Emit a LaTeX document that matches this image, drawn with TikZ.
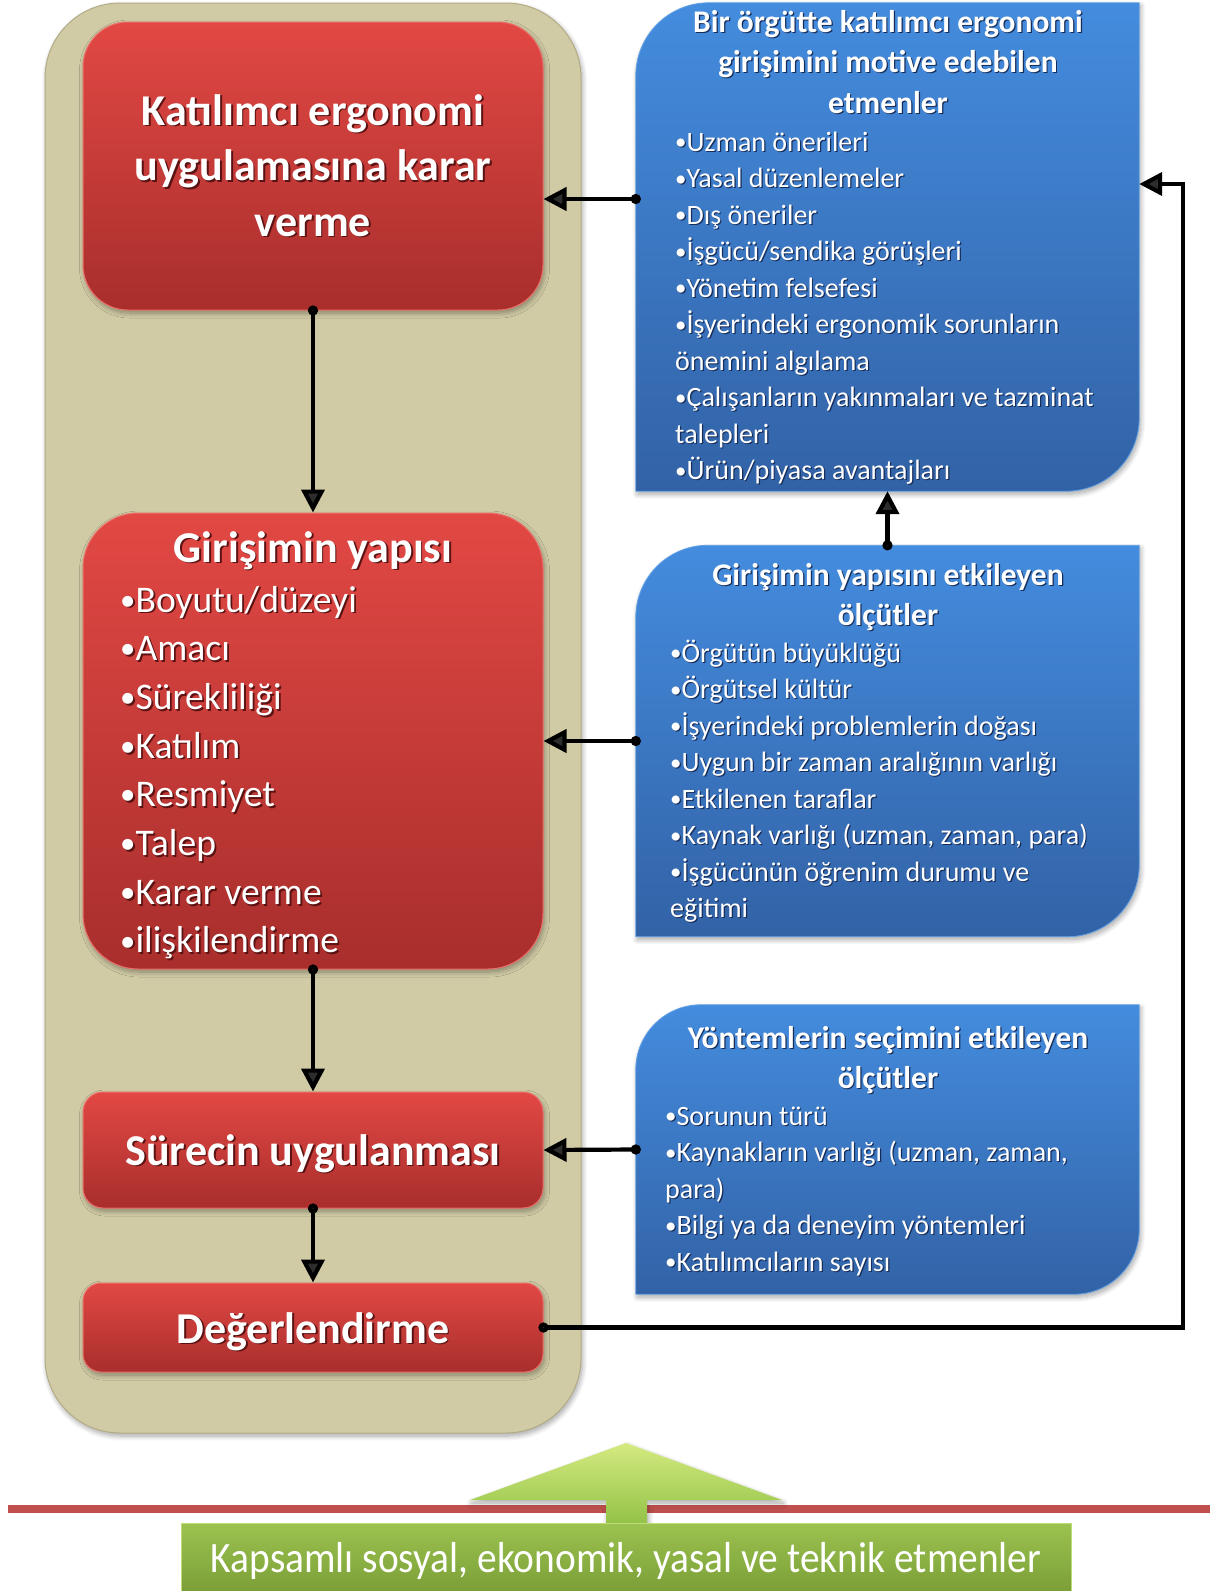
\documentclass[tikz,border=0pt]{standalone}
\usepackage{graphicx}
\usepackage{fontspec}
\setmainfont{Carlito}
\usetikzlibrary{arrows.meta,shadows.blur}

\definecolor{panel}{RGB}{208,203,165}
\definecolor{panelrim}{RGB}{178,172,134}
\definecolor{redtop}{RGB}{226,72,68}
\definecolor{redbot}{RGB}{168,46,44}
\definecolor{redrim}{RGB}{236,112,106}
\definecolor{redshade}{RGB}{90,18,18}
\definecolor{bluetop}{RGB}{68,140,222}
\definecolor{bluebot}{RGB}{50,98,166}
\definecolor{bluerim}{RGB}{96,160,230}
\definecolor{blueshade}{RGB}{22,45,90}
\definecolor{floorline}{RGB}{192,80,77}
\definecolor{greentop}{RGB}{156,194,80}
\definecolor{greenbot}{RGB}{122,158,54}
\definecolor{greenrim}{RGB}{190,220,120}
\definecolor{arrowtop}{RGB}{212,234,128}
\definecolor{arrowbot}{RGB}{146,194,70}

% white text with a dark offset copy underneath
\newcommand\shadowed[3]{\leavevmode\rlap{\kern#1\raisebox{-#1}{\textcolor{#2}{#3}}}#3}
\newcommand\rsh[1]{\shadowed{1.8pt}{redshade}{#1}}
\newcommand\bsh[1]{\shadowed{1.2pt}{blueshade}{#1}}
% small list bullet
\newcommand\bul{\raisebox{0.05em}{\scalebox{0.82}{•}}}

% blue panel with two rounded diagonal corners
\newcommand\bluepanel[2]{%
  \shadedraw[top color=bluetop, bottom color=bluebot, draw=bluerim, line width=0.8pt, softshadow]
    (#1.south west) -- ([yshift=-#2]#1.north west)
    arc[start angle=180, end angle=90, radius=#2] -- (#1.north east)
    -- ([yshift=#2]#1.south east)
    arc[start angle=0, end angle=-90, radius=#2] -- cycle;}

\begin{document}
\begin{tikzpicture}[x=1pt,y=1pt,
  softshadow/.style={blur shadow={shadow xshift=1.5pt, shadow yshift=-3pt,
      shadow blur radius=5pt, shadow blur steps=8, shadow opacity=35}},
  panelbox/.style={rectangle, rounded corners=75pt, fill=panel, draw=panelrim,
      line width=1pt, softshadow, inner sep=0pt},
  redbox/.style={rectangle, top color=redtop, bottom color=redbot, draw=redrim,
      line width=1pt, minimum width=460pt, inner sep=0pt, softshadow},
  zone/.style={rectangle, minimum width=503pt, inner sep=0pt},
  lbl/.style={text=white, inner sep=0pt, anchor=base},
  lst/.style={text=white, inner sep=0pt, anchor=base west},
  conn/.style={line width=4.2pt, {Circle[length=10pt]}-{Triangle[length=23pt,width=23pt]},
      shorten <=-5pt},
]
\useasboundingbox (0,0) rectangle (1215,-1591);

% left column
\node[panelbox, minimum width=536pt, minimum height=1430pt] (panel) at (313,-718) {};
\node[redbox, rounded corners=45pt, minimum height=288pt] (r1) at (313,-166) {};
\node[redbox, rounded corners=55pt, minimum height=456pt] (r2) at (313,-741) {};
\node[redbox, rounded corners=20pt, minimum height=116pt] (r3) at (313,-1150) {};
\node[redbox, rounded corners=18pt, minimum height=89pt] (r4) at (313,-1327.5) {};

\node[lbl] (r1t) at (313,-125) {\fontsize{44}{55.5}\bfseries\selectfont
  \begin{tabular}[t]{@{}c@{}}\rsh{Katılımcı ergonomi}\\\rsh{uygulamasına karar}\\\rsh{verme}\end{tabular}};
\node[lbl] (r2t) at (313,-562) {\fontsize{44}{55}\bfseries\selectfont\rsh{Girişimin yapısı}};
\node[lst] (r2l) at (120,-612) {\fontsize{37.6}{48.7}\selectfont
  \begin{tabular}[t]{@{}l@{}}
  \rsh{\bul Boyutu/düzeyi}\\\rsh{\bul Amacı}\\\rsh{\bul Sürekliliği}\\\rsh{\bul Katılım}\\
  \rsh{\bul Resmiyet}\\\rsh{\bul Talep}\\\rsh{\bul Karar verme}\\\rsh{\bul ilişkilendirme}
  \end{tabular}};
\node[lbl] (r3t) at (313,-1165) {\fontsize{44}{55}\bfseries\selectfont\rsh{Sürecin uygulanması}};
\node[lbl] (r4t) at (313,-1343) {\fontsize{44}{55}\bfseries\selectfont\rsh{Değerlendirme}};

% right column
\node[zone, minimum height=488pt] (b1) at (887.5,-247) {};
\node[zone, minimum height=391pt] (b2) at (887.5,-741) {};
\node[zone, minimum height=289pt] (b3) at (887.5,-1149.5) {};
\bluepanel{b1}{73pt}
\bluepanel{b2}{72pt}
\bluepanel{b3}{65pt}

\node[lbl] (b1t) at (888,-32) {\fontsize{31.5}{40.6}\bfseries\selectfont
  \begin{tabular}[t]{@{}c@{}}\bsh{Bir örgütte katılımcı ergonomi}\\\bsh{girişimini motive edebilen}\\\bsh{etmenler}\end{tabular}};
\node[lst] (b1l) at (675,-151) {\fontsize{28}{36.5}\selectfont
  \begin{tabular}[t]{@{}l@{}}
  \bsh{\bul Uzman önerileri}\\\bsh{\bul Yasal düzenlemeler}\\\bsh{\bul Dış öneriler}\\
  \bsh{\bul İşgücü/sendika görüşleri}\\\bsh{\bul Yönetim felsefesi}\\
  \bsh{\bul İşyerindeki ergonomik sorunların}\\\bsh{önemini algılama}\\
  \bsh{\bul Çalışanların yakınmaları ve tazminat}\\\bsh{talepleri}\\
  \bsh{\bul Ürün/piyasa avantajları}
  \end{tabular}};

\node[lbl] (b2t) at (888,-585) {\fontsize{31.5}{40.6}\bfseries\selectfont
  \begin{tabular}[t]{@{}c@{}}\bsh{Girişimin yapısını etkileyen}\\\bsh{ölçütler}\end{tabular}};
\node[lst] (b2l) at (670,-662) {\fontsize{28}{36.5}\selectfont
  \begin{tabular}[t]{@{}l@{}}
  \bsh{\bul Örgütün büyüklüğü}\\\bsh{\bul Örgütsel kültür}\\\bsh{\bul İşyerindeki problemlerin doğası}\\
  \bsh{\bul Uygun bir zaman aralığının varlığı}\\\bsh{\bul Etkilenen taraflar}\\
  \bsh{\bul Kaynak varlığı (uzman, zaman, para)}\\\bsh{\bul İşgücünün öğrenim durumu ve}\\
  \bsh{eğitimi}
  \end{tabular}};

\node[lbl] (b3t) at (888,-1048) {\fontsize{31.5}{40.6}\bfseries\selectfont
  \begin{tabular}[t]{@{}c@{}}\bsh{Yöntemlerin seçimini etkileyen}\\\bsh{ölçütler}\end{tabular}};
\node[lst] (b3l) at (665,-1125) {\fontsize{28}{36.5}\selectfont
  \begin{tabular}[t]{@{}l@{}}
  \bsh{\bul Sorunun türü}\\\bsh{\bul Kaynakların varlığı (uzman, zaman,}\\\bsh{para)}\\
  \bsh{\bul Bilgi ya da deneyim yöntemleri}\\\bsh{\bul Katılımcıların sayısı}
  \end{tabular}};

% connectors
\coordinate (in1) at (0,-199);
\coordinate (loop) at (1183,-184);
\draw[conn] (b1.west |- in1) -- (r1.east |- in1);
\draw[conn] (r1.south) -- (r2.north);
\draw[conn] (b2.north) -- (b1.south);
\draw[conn] (b2.west) -- (r2.east);
\draw[conn] (r2.south) -- (r3.north);
\draw[conn] (b3.west) -- (r3.east);
\draw[conn] (r3.south) -- (r4.north);
\draw[conn] (r4.east) -| (loop) -- (b1.east |- loop);

% ground line, upward arrow and base box
\fill[floorline] (8,-1505) rectangle (1210,-1513);
\shade[top color=arrowtop, bottom color=arrowbot, softshadow]
  (626,-1443) -- (782,-1500) -- (647,-1500) -- (647,-1525) -- (606,-1525)
  -- (606,-1500) -- (470,-1500) -- cycle;
\node[rectangle, top color=greentop, bottom color=greenbot, draw=greenrim, line width=0.8pt,
  minimum width=890pt, minimum height=70pt, inner sep=0pt, anchor=north] (base) at (626,-1523) {};
\node[lbl] (baset) at (626,-1572) {\fontsize{39.4}{48}\selectfont
  \scalebox{1}[1.1]{Kapsamlı sosyal, ekonomik, yasal ve teknik etmenler}};
\end{tikzpicture}
\end{document}
